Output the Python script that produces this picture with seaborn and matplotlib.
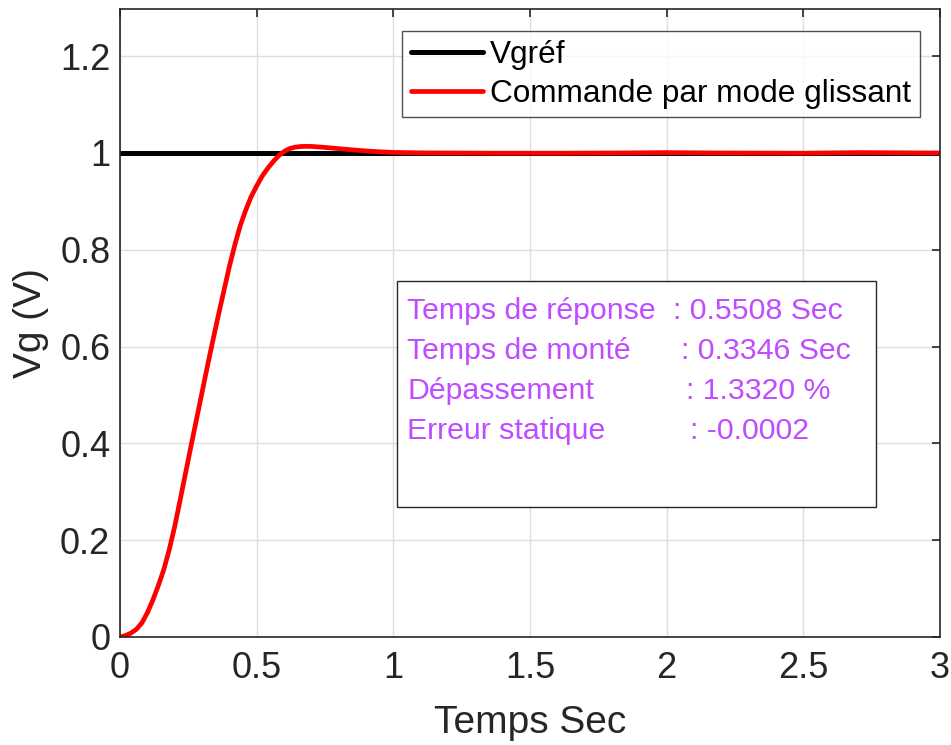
import matplotlib
matplotlib.use("Agg")
import matplotlib.pyplot as plt
import seaborn as sns
import pandas as pd
from matplotlib.patches import Rectangle

# ---- data ----
time_s = [0.0, 0.02, 0.04, 0.06, 0.08, 0.1, 0.12, 0.14, 0.16, 0.18, 0.2,
          0.22, 0.24, 0.26, 0.28, 0.3, 0.32, 0.34, 0.36, 0.38, 0.4,
          0.42, 0.44, 0.46, 0.48, 0.5, 0.52, 0.54, 0.56, 0.58, 0.6,
          0.62, 0.64, 0.66, 0.68, 0.7, 0.75, 0.8, 0.85, 0.9, 0.95, 1.0,
          1.1, 1.2, 1.4, 1.6, 1.8, 2.0, 2.2, 2.5, 2.7, 3.0]
vg_smc = [0.0, 0.003, 0.008, 0.016, 0.029, 0.05, 0.076, 0.106, 0.139, 0.18, 0.228,
          0.283, 0.339, 0.395, 0.45, 0.505, 0.56, 0.613, 0.665, 0.715, 0.765,
          0.81, 0.85, 0.882, 0.91, 0.932, 0.952, 0.968, 0.982, 0.994, 1.003,
          1.009, 1.012, 1.0133, 1.0138, 1.0136, 1.0115, 1.009, 1.0065, 1.0042, 1.0025, 1.0012,
          1.0003, 1.0, 0.9996, 0.9996, 1.0, 1.0008, 1.0, 0.9996, 1.0008, 1.0]
vg_ref_t = [0.0, 3.0]
vg_ref = [1.0, 1.0]

x_ticks = [0, 0.5, 1, 1.5, 2, 2.5, 3]
x_tick_labels = ["0", "0.5", "1", "1.5", "2", "2.5", "3"]
y_ticks = [0, 0.2, 0.4, 0.6, 0.8, 1.0, 1.2]
y_tick_labels = ["0", "0.2", "0.4", "0.6", "0.8", "1", "1.2"]

legend_labels = ["Vgréf", "Commande par mode glissant"]
info_names = ["Temps de réponse", "Temps de monté", "Dépassement", "Erreur statique"]
info_values = [": 0.5508 Sec", ": 0.3346 Sec", ": 1.3320 %", ": -0.0002"]

# ---- style ----
sns.set_theme(style="white")
plt.rcParams["font.family"] = ["Liberation Sans", "DejaVu Sans"]

fig = plt.figure(figsize=(9.51, 7.45), dpi=100)
ax = fig.add_axes([120 / 951, (745 - 637) / 745, 820 / 951, 628 / 745])

df_ref = pd.DataFrame({"t": vg_ref_t, "v": vg_ref})
df_smc = pd.DataFrame({"t": time_s, "v": vg_smc})
sns.lineplot(data=df_ref, x="t", y="v", ax=ax, color="black", linewidth=3.6,
             label=legend_labels[0], sort=False)
sns.lineplot(data=df_smc, x="t", y="v", ax=ax, color="#FF0000", linewidth=3.4,
             label=legend_labels[1], sort=False)

ax.set_xlim(0, 3)
ax.set_ylim(0, 1.2975)
ax.set_xticks(x_ticks)
ax.set_xticklabels(x_tick_labels)
ax.set_yticks(y_ticks)
ax.set_yticklabels(y_tick_labels)
ax.grid(True, color="#dedede", linewidth=1.0)
ax.set_axisbelow(True)
ax.tick_params(axis="both", which="both", direction="in", length=6, width=1.2,
               labelsize=26, colors="#262626", top=True, right=True, pad=7)
ax.tick_params(axis="x", pad=10)
for s in ax.spines.values():
    s.set_visible(True)
    s.set_color("#262626")
    s.set_linewidth(1.2)

ax.set_xlabel("Temps Sec", fontsize=28, color="#262626", labelpad=14)
ax.set_ylabel("Vg (V)", fontsize=28, color="#262626", labelpad=8)

leg = ax.legend(loc="upper left", bbox_to_anchor=((402 - 120) / 820, (637 - 31) / 628),
                borderaxespad=0, fontsize=22.7, frameon=True, fancybox=False,
                edgecolor="#262626", handlelength=2.3, handletextpad=0.22,
                labelspacing=0.28, borderpad=0.28)
leg.get_frame().set_linewidth(1.0)
for t in leg.get_texts():
    t.set_color("black")

# info box
ax.add_patch(Rectangle((277 / 820, (637 - 507) / 628), 479 / 820, 226 / 628,
                       transform=ax.transAxes, fill=True, facecolor="white",
                       edgecolor="#262626", linewidth=1.0, zorder=3))
purple = "#BF4CFF"
name_y = [311, 351, 391, 431]
val_x = [673, 681, 686, 690]
for i in range(4):
    yf = (637 - name_y[i]) / 628
    ax.text((407 - 120) / 820, yf, info_names[i], transform=ax.transAxes,
            fontsize=21.8, color=purple, va="center", ha="left", zorder=4)
    ax.text((val_x[i] - 120) / 820, yf, info_values[i], transform=ax.transAxes,
            fontsize=21.8, color=purple, va="center", ha="left", zorder=4)

fig.savefig("out.png", dpi=100)
